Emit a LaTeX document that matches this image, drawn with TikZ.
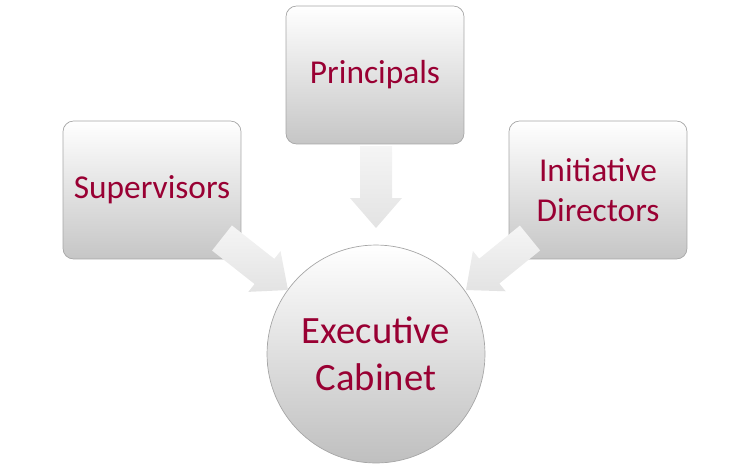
\documentclass[tikz,border=0pt]{standalone}
\usepackage{fontspec}
\setmainfont{Carlito}
\usetikzlibrary{calc,positioning}
\definecolor{wine}{RGB}{153,0,51}
% block arrow from #1 to #2
\newcommand{\blockarrow}[2]{%
  \path[flow]
    ($(#1)!0.32cm!90:(#2)$) --
    ($($(#2)!0.6cm!(#1)$)!0.32cm!-90:(#1)$) --
    ($($(#2)!0.6cm!(#1)$)!0.52cm!-90:(#1)$) --
    (#2) --
    ($($(#2)!0.6cm!(#1)$)!0.52cm!90:(#1)$) --
    ($($(#2)!0.6cm!(#1)$)!0.32cm!90:(#1)$) --
    ($(#1)!0.32cm!-90:(#2)$) -- cycle;}
\begin{document}
\begin{tikzpicture}[
x=0.02cm, y=-0.02cm,
box/.style={
    draw=gray!70,
    rounded corners=6pt,
    top color=white,
    bottom color=gray!45,
    minimum width=3.56cm,
    minimum height=2.76cm,
    align=center,
    text=wine,
    font=\fontsize{19}{23}\selectfont
    },
flow/.style={
    top color=gray!8,
    bottom color=gray!22,
    draw=none
    }
]
\useasboundingbox (0,0) rectangle (750,468);

\node[box] (principals) at (375,75) {Principals};
\node[box] (supervisors) at (152,190) {Supervisors};
\node[box] (directors) at (598,190) {Initiative\\Directors};
\node[circle, draw=gray!70, minimum size=4.36cm, top color=white, bottom color=gray!50,
      align=center, text=wine, font=\fontsize{22}{27}\selectfont] (cabinet) at (376,354) {Executive\\Cabinet};

\coordinate (downtail) at (376,146);
\coordinate (downtip) at (376,228);
\coordinate (lefttail) at (222,238);
\coordinate (lefttip) at (288,290);
\coordinate (righttail) at (530,238);
\coordinate (righttip) at (466,290);
\blockarrow{downtail}{downtip}
\blockarrow{lefttail}{lefttip}
\blockarrow{righttail}{righttip}
\end{tikzpicture}
\end{document}
